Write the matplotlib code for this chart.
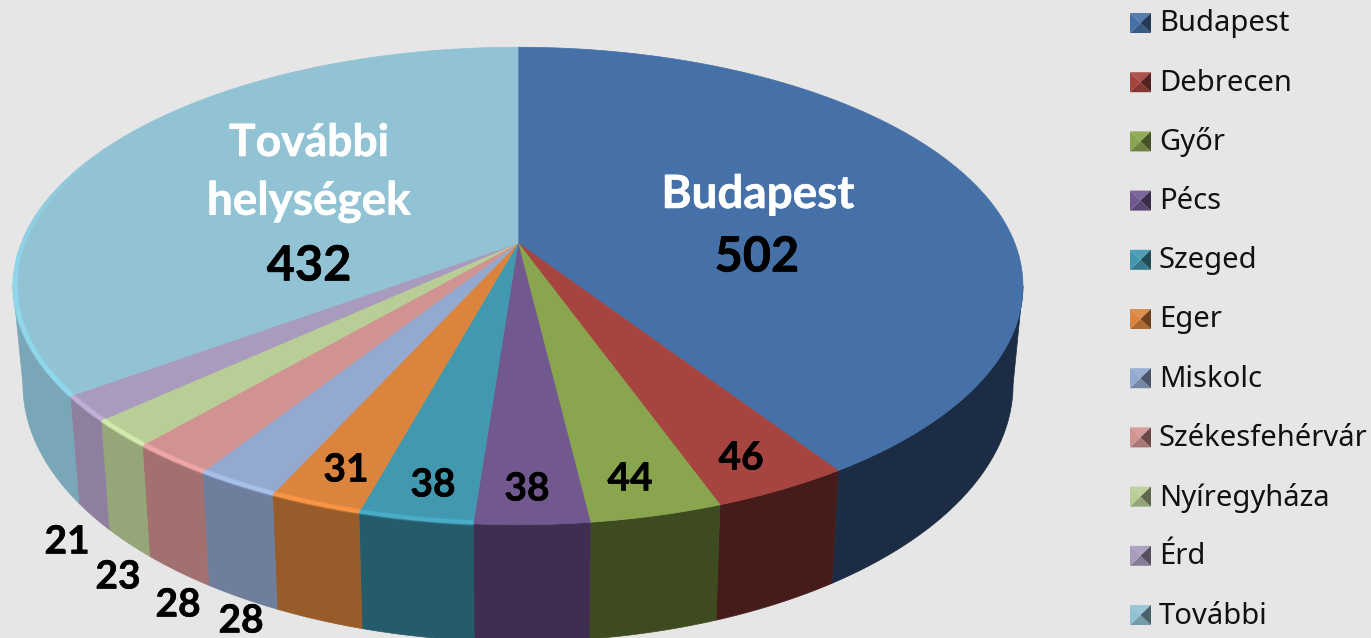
import numpy as np
import matplotlib
matplotlib.use('Agg')
import matplotlib.pyplot as plt
import matplotlib.patheffects as pe
from matplotlib.colors import to_rgb

# data
cities = ['Budapest', 'Debrecen', 'Győr', 'Pécs', 'Szeged', 'Eger', 'Miskolc',
          'Székesfehérvár', 'Nyíregyháza', 'Érd', 'További']
values = [502, 46, 44, 38, 38, 31, 28, 28, 23, 21, 432]
value_labels = ['502', '46', '44', '38', '38', '31', '28', '28', '23', '21', '432']

top_colors = ['#4571A8', '#A64440', '#89A54E', '#71588F', '#4198AF', '#DB843D',
              '#93A9CF', '#D19392', '#B9CD96', '#A99BBD', '#92C3D4']
side_colors = ['#1B2C44', '#451C1A', '#3E4A20', '#3F2E52', '#265B6B', '#985C2A',
               '#6E7E9C', '#A37070', '#95A678', '#8F7F9F', '#7AA7B8']
bg = '#E6E6E6'

# projection of the tilted disc onto the picture
cx = 518
p = 0.18
top_y0, top_b, top_a = 243, 231, 496.7
bot_y0, bot_b, bot_a = 338, 249, 487
tangent = np.degrees(np.arccos(-p))


def project(deg, y0, a, b):
    t = np.radians(deg)
    u = np.sin(t)
    v = np.cos(t)
    w = 1 + p * v
    return cx + a * u / w, y0 - b * v / w


def shade(col, f):
    r = np.array(to_rgb(col))
    if f >= 0:
        return tuple(r + (1 - r) * f)
    return tuple(r * (1 + f))


def brighten(col, f):
    return tuple(np.clip(np.array(to_rgb(col)) * f, 0, 1))


fig = plt.figure(figsize=(13.71, 6.38), dpi=100, facecolor=bg)
ax = fig.add_axes([0, 0, 1, 1])
ax.set_xlim(0, 1371)
ax.set_ylim(638, 0)
ax.axis('off')

angles = np.concatenate([[0], np.cumsum(values)]) / sum(values) * 360

# side walls
for i in range(len(values)):
    a0 = max(angles[i], tangent)
    a1 = min(angles[i + 1], 360 - tangent)
    if a1 <= a0:
        continue
    arc = np.linspace(a0, a1, 80)
    x1, y1 = project(arc, top_y0, top_a, top_b)
    x2, y2 = project(arc, bot_y0, bot_a, bot_b)
    ax.fill(np.r_[x1, x2[::-1]], np.r_[y1, y2[::-1]], color=side_colors[i], lw=0.5)

# top face
for i in range(len(values)):
    arc = np.linspace(angles[i], angles[i + 1], 200)
    x, y = project(arc, top_y0, top_a, top_b)
    ax.fill(np.r_[cx, x], np.r_[top_y0, y], color=top_colors[i], lw=0.5)

# bevel along the rim, sits just inside the edge
for i in range(4, len(values)):
    a0 = angles[i]
    a1 = min(angles[i + 1], 262)
    arc = np.linspace(a0, a1, 100)
    x, y = project(arc, top_y0, top_a * 0.996, top_b * 0.996)
    rim = '#8FDDF2' if i == 10 else brighten(top_colors[i], 1.17)
    ax.plot(x, y, color=rim, lw=4.5, alpha=0.3, solid_capstyle='butt')
    ax.plot(x, y, color=rim, lw=3, alpha=0.75, solid_capstyle='butt')
    if i == 10:
        # the highlight on the last slice fades out going up the left side
        steps = np.linspace(262, 296, 18)
        for j in range(len(steps) - 1):
            x, y = project(np.linspace(steps[j], steps[j + 1], 6), top_y0, top_a * 0.996, top_b * 0.996)
            ax.plot(x, y, color=rim, lw=3, alpha=0.75 * (1 - j / 17), solid_capstyle='butt')

# labels
lato = 'Lato'
heavy = [pe.withStroke(linewidth=0.4, foreground='white')]
heavy_k = [pe.withStroke(linewidth=0.4, foreground='black')]
ax.text(758, 195, 'Budapest', color='white', fontsize=33, fontweight='bold', family=lato, ha='center', va='center', path_effects=heavy)
ax.text(757, 257, value_labels[0], color='black', fontsize=35, fontweight='bold', family=lato, ha='center', va='center', path_effects=heavy_k)
ax.text(309, 143, 'További', color='white', fontsize=32, fontweight='bold', family=lato, ha='center', va='center', path_effects=heavy)
ax.text(309, 202, 'helységek', color='white', fontsize=33, fontweight='bold', family=lato, ha='center', va='center', path_effects=heavy)
ax.text(309, 266, value_labels[10], color='black', fontsize=35, fontweight='bold', family=lato, ha='center', va='center', path_effects=heavy_k)

small_pos = [(741, 458), (630, 479), (527, 489), (433, 485), (346, 470),
             (241, 621), (178, 605), (118, 577), (67, 542)]
for lab, (tx, ty) in zip(value_labels[1:10], small_pos):
    ax.text(tx, ty, lab, color='black', fontsize=28, fontweight='bold', family=lato, ha='center', va='center', path_effects=heavy_k)

# legend with bevelled keys
for i, name in enumerate(cities):
    ly = 23 + i * 59.2
    x0, x1 = 1130, 1151
    y0, y1 = ly - 10, ly + 10
    mx, my = (x0 + x1) / 2, (y0 + y1) / 2
    c = top_colors[i]
    ax.fill([x0, x1, mx], [y0, y0, my], color=shade(c, 0.08), lw=0)
    ax.fill([x0, x1, mx], [y1, y1, my], color=shade(c, -0.2), lw=0)
    ax.fill([x0, mx, x0], [y0, my, y1], color=c, lw=0)
    ax.fill([x1, mx, x1], [y0, my, y1], color=shade(c, -0.5), lw=0)
    ax.text(1159, ly + 1, name, color='#111111', fontsize=21, family='Noto Sans', ha='left', va='center')

fig.savefig('out.png', dpi=100, facecolor=bg)
